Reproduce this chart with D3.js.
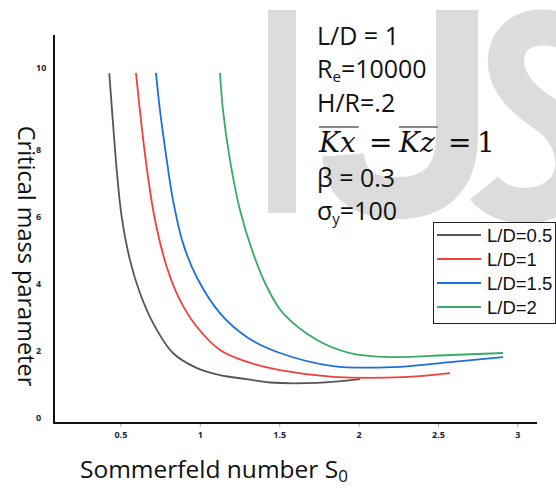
<!DOCTYPE html>
<html>
<head>
<meta charset="utf-8">
<script src="https://cdn.jsdelivr.net/npm/d3@7"></script>
<style>
  body { margin: 0; background: #fff; }
  svg { display: block; }
</style>
</head>
<body>
<div id="chart"></div>
<script>
// series: Sommerfeld number S0 vs critical mass parameter
var seriesNames = ["L/D=0.5", "L/D=1", "L/D=1.5", "L/D=2"];
var seriesColors = ["#555555", "#f0403f", "#1c6fdc", "#38ab67"];

var s0_ld05 = [0.430, 0.455, 0.477, 0.508, 0.560, 0.623, 0.705, 0.831, 0.982, 1.127, 1.297, 1.442, 1.738, 2.009];
var m_ld05  = [10.29, 8.70, 7.40, 6.01, 4.72, 3.73, 2.84, 1.94, 1.49, 1.28, 1.16, 1.06, 1.05, 1.16];

var s0_ld1 = [0.598, 0.634, 0.674, 0.718, 0.792, 0.875, 0.980, 1.127, 1.295, 1.505, 1.839, 2.280, 2.576];
var m_ld1  = [10.30, 8.70, 7.19, 5.91, 4.51, 3.52, 2.73, 2.03, 1.68, 1.43, 1.23, 1.22, 1.34];

var s0_ld15 = [0.724, 0.749, 0.792, 0.831, 0.894, 0.980, 1.127, 1.295, 1.505, 1.839, 2.217, 2.576, 2.909];
var m_ld15  = [10.30, 9.19, 7.70, 6.51, 5.22, 4.21, 3.13, 2.42, 1.94, 1.55, 1.52, 1.67, 1.82];

var s0_ld2 = [1.127, 1.146, 1.190, 1.253, 1.335, 1.423, 1.524, 1.738, 1.946, 2.198, 2.576, 2.909];
var m_ld2  = [10.30, 9.19, 7.70, 6.21, 4.93, 3.91, 3.13, 2.33, 1.94, 1.82, 1.88, 1.94];

var xTicks = [0.5, 1, 1.5, 2, 2.5, 3];
var yTicks = [0, 2, 4, 6, 8, 10];

var W = 556, H = 493;
var svg = d3.select("#chart").append("svg")
    .attr("width", W)
    .attr("height", H);

// watermark "IJS" in the background
var wm = svg.append("g").attr("fill", "none").attr("stroke", "#dcdcdc");
wm.append("rect")
    .attr("x", 268).attr("y", 10).attr("width", 28).attr("height", 203)
    .attr("fill", "#dcdcdc").attr("stroke", "none");
wm.append("path")
    .attr("stroke-width", 42)
    .attr("d", "M457 10 V135 C457 182 432 198 398 198 C362 198 345 184 343 155");
wm.append("path")
    .attr("stroke-width", 36)
    .attr("d", "M585 45 C565 24 524 20 510 44 C496 74 520 98 545 114 C575 134 582 172 562 192 C540 212 502 210 484 188");

var x = d3.scaleLinear().domain([0, 3]).range([41, 517.4]);
var y = d3.scaleLinear().domain([0, 8]).range([418, 150]);

var x0 = 54, yBase = 423;

// axis lines
svg.append("line")
    .attr("x1", x0).attr("x2", x0).attr("y1", 35).attr("y2", yBase)
    .attr("stroke", "#111").attr("stroke-width", 2);
svg.append("line")
    .attr("x1", x0 - 1).attr("x2", 537).attr("y1", yBase).attr("y2", yBase)
    .attr("stroke", "#111").attr("stroke-width", 2);

var xAxis = svg.append("g")
    .attr("transform", "translate(0," + (yBase + 1) + ")")
    .call(d3.axisBottom(x).tickValues(xTicks).tickSize(3).tickFormat(d3.format("")));
xAxis.select(".domain").remove();
xAxis.selectAll("line").attr("stroke", "#aaa");
xAxis.selectAll("text")
    .attr("y", 8)
    .attr("fill", "#1c2340")
    .style("font-family", "Open Sans")
    .style("font-weight", "bold")
    .style("font-size", "9px");

var yAxis = svg.append("g")
    .attr("transform", "translate(" + x0 + ",0)")
    .call(d3.axisLeft(y).tickValues(yTicks).tickSize(0));
yAxis.select(".domain").remove();
yAxis.selectAll("text")
    .attr("x", -18)
    .attr("text-anchor", "start")
    .attr("fill", "#1c2340")
    .style("font-family", "Open Sans")
    .style("font-weight", "bold")
    .style("font-size", "9px");
// the "10" label sits a little higher than the scale puts it
yAxis.selectAll(".tick").filter(function(d) { return d === 10; })
    .select("text").attr("dy", "-1.4em");

// axis titles
svg.append("text")
    .attr("transform", "translate(18,256) rotate(90)")
    .attr("text-anchor", "middle")
    .style("font-family", "Open Sans")
    .style("font-size", "23.5px")
    .attr("fill", "#111")
    .text("Critical mass parameter");

var xt = svg.append("text")
    .attr("x", 80).attr("y", 478)
    .style("font-family", "Open Sans")
    .style("font-size", "24.5px")
    .attr("fill", "#111");
xt.append("tspan").text("Sommerfeld number S");
xt.append("tspan").attr("dy", 4).style("font-size", "17px").text("0");

// curves
var series = [
  s0_ld05.map(function(v, i) { return [v, m_ld05[i]]; }),
  s0_ld1.map(function(v, i) { return [v, m_ld1[i]]; }),
  s0_ld15.map(function(v, i) { return [v, m_ld15[i]]; }),
  s0_ld2.map(function(v, i) { return [v, m_ld2[i]]; })
];
var line = d3.line()
    .x(function(d) { return x(d[0]); })
    .y(function(d) { return y(d[1]); })
    .curve(d3.curveCatmullRom);
svg.selectAll(".curve")
    .data(series)
    .enter().append("path")
    .attr("class", "curve")
    .attr("fill", "none")
    .attr("stroke", function(d, i) { return seriesColors[i]; })
    .attr("stroke-width", 1.8)
    .attr("d", line);

// annotation block
function note(txt, base, sub, after) {
  var t = svg.append("text")
      .attr("x", 317).attr("y", base)
      .style("font-family", "Open Sans")
      .style("font-size", "25px")
      .attr("fill", "#111");
  t.append("tspan").text(txt);
  if (sub) {
    t.append("tspan").attr("dy", 4).style("font-size", "15px").text(sub);
    t.append("tspan").attr("dy", -4).text(after);
  }
  return t;
}
note("L/D = 1", 45);
note("R", 78, "e", "=10000");
note("H/R=.2", 112);
note("β = 0.3", 187);
note("σ", 220, "y", "=100");

// Kx = Kz = 1 line, with overbars on Kx and Kz
var kBase = 152;
var parts = [
  { t: "Kx", x: 319, it: true },
  { t: "=", x: 369, it: false },
  { t: "Kz", x: 399, it: true },
  { t: "=", x: 448, it: false },
  { t: "1", x: 477, it: false }
];
parts.forEach(function(p) {
  var t = svg.append("text")
      .attr("x", p.x).attr("y", kBase)
      .style("font-family", "DejaVu Serif")
      .style("font-size", "28px")
      .style("font-style", p.it ? "italic" : "normal")
      .attr("fill", "#111")
      .text(p.t);
  if (p.it) {
    var w = t.node().getComputedTextLength();
    svg.append("line")
        .attr("x1", p.x).attr("x2", p.x + w + 3)
        .attr("y1", kBase - 25).attr("y2", kBase - 25)
        .attr("stroke", "#111").attr("stroke-width", 1.2);
  }
});

// legend
var lg = svg.append("g").attr("transform", "translate(433,222)");
lg.append("rect")
    .attr("x", 0.5).attr("y", 0.5).attr("width", 122).attr("height", 101)
    .attr("fill", "#fff").attr("stroke", "#222").attr("stroke-width", 1);
var rows = lg.selectAll(".row")
    .data(seriesNames)
    .enter().append("g")
    .attr("transform", function(d, i) { return "translate(0," + (13 + i * 24) + ")"; });
rows.append("line")
    .attr("x1", 4).attr("x2", 48)
    .attr("stroke", function(d, i) { return seriesColors[i]; })
    .attr("stroke-width", 1.8);
rows.append("text")
    .attr("x", 54).attr("dy", "0.36em")
    .style("font-family", "Liberation Sans")
    .style("font-size", "18.5px")
    .attr("fill", "#111")
    .text(function(d) { return d; });
</script>
</body>
</html>
